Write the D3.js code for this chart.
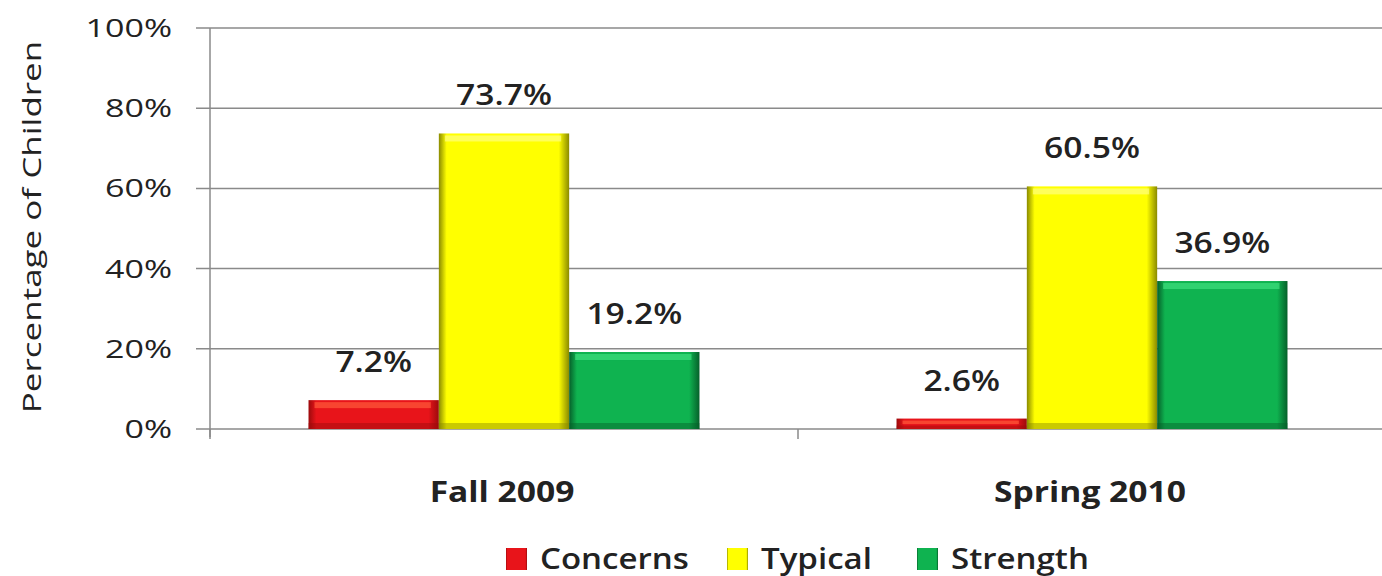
<!DOCTYPE html>
<html><head><meta charset="utf-8">
<script src="https://cdn.jsdelivr.net/npm/d3@7"></script>
<style>body{margin:0;background:#fff}svg{display:block}</style>
</head><body>
<script>
const categories = ["Fall 2009", "Spring 2010"];
const seriesNames = ["Concerns", "Typical", "Strength"];
const concerns = [7.2, 2.6];
const typical = [73.7, 60.5];
const strength = [19.2, 36.9];
const yTicks = [0, 20, 40, 60, 80, 100];

const colors = {Concerns: "#e8141a", Typical: "#ffff00", Strength: "#0fb350"};
const darks = {Concerns: "#9c0a0c", Typical: "#8a8a00", Strength: "#06602a"};
const lights = {Concerns: "#ff5a3a", Typical: "#ffff80", Strength: "#3ee07e"};

const W = 1382, H = 576;
const svg = d3.select("body").append("svg").attr("width", W).attr("height", H);
const font = "'Open Sans', 'Noto Sans', sans-serif";

const x0 = d3.scaleBand().domain(categories).range([210, 1386]).paddingInner(0).paddingOuter(0);
const x1 = d3.scaleBand().domain(seriesNames).range([0, x0.bandwidth()]).paddingInner(0).paddingOuter(0.756);
const y = d3.scaleLinear().domain([0, 100]).range([429, 28]);

const defs = svg.append("defs");
seriesNames.forEach(s => {
  const g = defs.append("linearGradient").attr("id", "h" + s).attr("x1", 0).attr("x2", 1).attr("y1", 0).attr("y2", 0);
  g.append("stop").attr("offset", "0").attr("stop-color", darks[s]);
  g.append("stop").attr("offset", "0.06").attr("stop-color", colors[s]);
  g.append("stop").attr("offset", "0.92").attr("stop-color", colors[s]);
  g.append("stop").attr("offset", "1").attr("stop-color", darks[s]);
});

// gridlines
svg.append("g").selectAll("line").data(yTicks).join("line")
  .attr("x1", 196).attr("x2", W).attr("y1", d => y(d)).attr("y2", d => y(d))
  .attr("stroke", "#8a8a8a").attr("stroke-width", 1.5);

// y axis line
svg.append("line").attr("x1", 210).attr("x2", 210).attr("y1", y(100)).attr("y2", y(0) + 8)
  .attr("stroke", "#8a8a8a").attr("stroke-width", 1.5);

// x ticks
svg.append("g").selectAll("line").data([210, x0(categories[1]), 1386]).join("line")
  .attr("x1", d => d).attr("x2", d => d).attr("y1", y(0)).attr("y2", y(0) + 10)
  .attr("stroke", "#8a8a8a").attr("stroke-width", 1.5);

// y tick labels
svg.append("g").selectAll("text").data(yTicks).join("text")
  .attr("transform", d => `translate(172,${y(d)}) scale(1.36,1)`)
  .attr("dy", "0.36em").attr("text-anchor", "end")
  .attr("font-family", font).attr("font-size", 25).attr("fill", "#222")
  .text(d => d + "%");

// axis title
svg.append("text").attr("transform", "translate(41,227) rotate(-90) scale(1.4,1)")
  .attr("text-anchor", "middle").attr("font-family", font).attr("font-size", 25).attr("fill", "#222")
  .text("Percentage of Children");

// data
const rows = [];
categories.forEach((c, i) => {
  rows.push({cat: c, s: "Concerns", v: concerns[i]});
  rows.push({cat: c, s: "Typical", v: typical[i]});
  rows.push({cat: c, s: "Strength", v: strength[i]});
});

const bars = svg.append("g").selectAll("g").data(rows).join("g")
  .attr("transform", d => `translate(${x0(d.cat) + x1(d.s)},0)`);
bars.append("rect")
  .attr("x", 0).attr("y", d => y(d.v)).attr("width", x1.bandwidth()).attr("height", d => y(0) - y(d.v))
  .attr("fill", d => `url(#h${d.s})`);
bars.append("rect")
  .attr("x", 6).attr("y", d => y(d.v) + 2).attr("width", x1.bandwidth() - 14)
  .attr("height", d => Math.min(6, (y(0) - y(d.v)) / 3))
  .attr("fill", d => lights[d.s]).attr("opacity", 0.7);
bars.append("rect")
  .attr("x", 0).attr("y", d => y(0) - Math.min(6, (y(0) - y(d.v)) / 3)).attr("width", x1.bandwidth())
  .attr("height", d => Math.min(6, (y(0) - y(d.v)) / 3))
  .attr("fill", d => darks[d.s]).attr("opacity", 0.45);

// value labels
bars.append("text")
  .attr("transform", d => `translate(${x1.bandwidth() / 2},${y(d.v) - 28}) scale(1.2,1)`)
  .attr("text-anchor", "middle").attr("font-family", font).attr("font-size", 28).attr("font-weight", 600)
  .attr("fill", "#222").text(d => d.v.toFixed(1) + "%");

// category labels
svg.append("g").selectAll("text").data(categories).join("text")
  .attr("transform", d => `translate(${x0(d) + x1("Typical") + x1.bandwidth() / 2 - 2},502) scale(1.2,1)`)
  .attr("text-anchor", "middle").attr("font-family", font).attr("font-size", 28).attr("font-weight", 700)
  .attr("fill", "#222").text(d => d);

// legend
const legX = [506, 727, 917];
const leg = svg.append("g").selectAll("g").data(seriesNames).join("g")
  .attr("transform", (d, i) => `translate(${legX[i]},548)`);
leg.append("rect").attr("width", 21).attr("height", 22).attr("fill", d => `url(#h${d})`);
leg.append("text").attr("transform", "translate(34,21) scale(1.14,1)")
  .attr("font-family", font).attr("font-size", 29).attr("font-weight", 600).attr("fill", "#222")
  .text(d => d);
</script>
</body></html>
